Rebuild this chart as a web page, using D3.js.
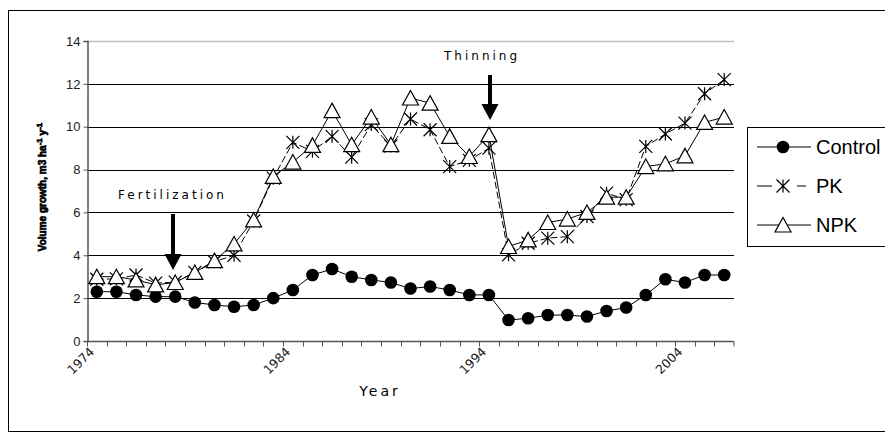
<!DOCTYPE html>
<html>
<head>
<meta charset="utf-8">
<script src="https://cdn.jsdelivr.net/npm/d3@7"></script>
<style>
  body { margin: 0; background: #fff; }
  svg { display: block; }
</style>
</head>
<body>
<div id="viz"></div>
<script>
// anos - years (one category per year)
var years = d3.range(1974, 2007);

// series values, m3 ha-1 y-1
var control = [2.3, 2.3, 2.15, 2.07, 2.07, 1.8, 1.68, 1.6, 1.68, 2.0, 2.38, 3.08, 3.36, 3.0, 2.85, 2.73, 2.45,
               2.54, 2.38, 2.15, 2.15, 0.98, 1.06, 1.21, 1.21, 1.14, 1.4, 1.56, 2.15, 2.88, 2.73, 3.08, 3.08];
var pk = [2.88, 2.9, 3.08, 2.7, 2.75, 3.2, 3.7, 4.0, 5.6, 7.6, 9.27, 8.85, 9.55, 8.58, 10.1, 9.1, 10.36,
          9.86, 8.14, 8.43, 9.0, 4.02, 4.56, 4.8, 4.87, 5.81, 6.9, 6.6, 9.08, 9.66, 10.17, 11.54, 12.2];
var npk = [3.0, 3.0, 2.85, 2.62, 2.73, 3.2, 3.75, 4.53, 5.65, 7.68, 8.35, 9.13, 10.75, 9.16, 10.45, 9.16, 11.34,
           11.1, 9.55, 8.61, 9.63, 4.41, 4.72, 5.53, 5.69, 6.0, 6.71, 6.71, 8.14, 8.27, 8.64, 10.2, 10.45];

var yTicks = [0, 2, 4, 6, 8, 10, 12, 14];
var xLabels = [1974, 1984, 1994, 2004];
var seriesNames = ['Control', 'PK', 'NPK'];

var width = 885, height = 437;
var margin = {left: 87, right: 151, top: 41, bottom: 96};

var svg = d3.select('#viz')
  .append('svg')
  .attr('width', width)
  .attr('height', height);

// moldura - outer frame
svg.append('rect')
  .attr('x', 8.5).attr('y', 10.5)
  .attr('width', 890).attr('height', 421)
  .attr('fill', 'none').attr('stroke', '#000');

var x = d3.scaleBand()
  .domain(years)
  .range([margin.left, width - margin.right])
  .padding(0);

var y = d3.scaleLinear()
  .domain([0, 14])
  .range([height - margin.bottom, margin.top]);

function cx(d, i) { return x(years[i]) + x.bandwidth() / 2; }

// linhas de grade - gridlines
svg.append('g')
  .selectAll('line')
  .data(yTicks.filter(function(t){ return t > 0; }))
  .join('line')
  .attr('x1', margin.left).attr('x2', width - margin.right)
  .attr('y1', function(d){ return Math.round(y(d)) + 0.5; })
  .attr('y2', function(d){ return Math.round(y(d)) + 0.5; })
  .attr('stroke', function(d){ return d === 14 ? '#c0c0c0' : '#000'; })
  .attr('stroke-width', function(d){ return d === 14 ? 1.5 : 1; });

// eixo y - y axis
var yAxis = svg.append('g')
  .attr('transform', 'translate(' + (margin.left + 0.5) + ',0)')
  .call(d3.axisLeft(y).tickValues(yTicks).tickSize(4).tickPadding(3));
yAxis.select('.domain').attr('stroke', '#555').attr('stroke-width', 1.5);
yAxis.selectAll('.tick line').attr('stroke', '#555');
yAxis.selectAll('text')
  .attr('font-family', 'Liberation Sans, Arial, sans-serif')
  .attr('font-size', 13)
  .attr('fill', '#222');

// eixo x - x axis, ticks at category boundaries
var xAxisG = svg.append('g');
var y0 = Math.round(y(0)) + 0.5;
xAxisG.append('line')
  .attr('x1', margin.left).attr('x2', width - margin.right)
  .attr('y1', y0).attr('y2', y0)
  .attr('stroke', '#555').attr('stroke-width', 1.5);
xAxisG.selectAll('line.tk')
  .data(years.concat([2007]))
  .join('line')
  .attr('class', 'tk')
  .attr('x1', function(d){ return d === 2007 ? width - margin.right : Math.round(x(d)) + 0.5; })
  .attr('x2', function(d){ return d === 2007 ? width - margin.right : Math.round(x(d)) + 0.5; })
  .attr('y1', y0).attr('y2', y0 + 5)
  .attr('stroke', '#555');
xAxisG.selectAll('text')
  .data(xLabels)
  .join('text')
  .attr('transform', function(d){ return 'translate(' + (x(d) + 5) + ',' + (y0 + 8) + ') rotate(-45)'; })
  .attr('text-anchor', 'end')
  .attr('dy', '0.35em')
  .attr('font-family', 'DejaVu Sans, Verdana, sans-serif')
  .attr('font-size', 12.5)
  .attr('fill', '#222')
  .text(function(d){ return d; });

svg.append('text')
  .attr('x', 380).attr('y', 396)
  .attr('text-anchor', 'middle')
  .attr('font-family', 'DejaVu Sans, Verdana, sans-serif')
  .attr('font-size', 14)
  .attr('letter-spacing', 3)
  .text('Year');

// titulo do eixo y - y axis title
var yt = svg.append('text')
  .attr('transform', 'translate(46,187) rotate(-90)')
  .attr('text-anchor', 'middle')
  .attr('font-family', 'Liberation Sans, Arial, sans-serif')
  .attr('font-size', 10)
  .attr('font-weight', 'bold')
  .attr('stroke', '#000').attr('stroke-width', 0.7);
yt.append('tspan').text('Volume growth, m3 ha');
yt.append('tspan').attr('dy', -4).attr('font-size', 8).text('-1');
yt.append('tspan').attr('dy', 4).text(' y');
yt.append('tspan').attr('dy', -4).attr('font-size', 8).text('-1');

// series
var line = d3.line().x(cx).y(function(d){ return y(d); });

function drawCircles(g, data) {
  g.selectAll('circle').data(data).join('circle')
    .attr('cx', cx).attr('cy', function(d){ return y(d); })
    .attr('r', 6.3).attr('fill', '#000');
}
function starPath(s) {
  return 'M' + (-s) + ',' + (-s) + 'L' + s + ',' + s +
         'M' + (-s) + ',' + s + 'L' + s + ',' + (-s) +
         'M0,' + (-s) + 'L0,' + s;
}
var triPath = 'M0,-7.5L8,7L-8,7Z';

var gC = svg.append('g');
gC.append('path').attr('d', line(control)).attr('fill', 'none').attr('stroke', '#000').attr('stroke-width', 1);
drawCircles(gC, control);

var gP = svg.append('g');
gP.append('path').attr('d', line(pk)).attr('fill', 'none').attr('stroke', '#000')
  .attr('stroke-width', 1).attr('stroke-dasharray', '7,3');
gP.selectAll('path.m').data(pk).join('path').attr('class', 'm')
  .attr('transform', function(d, i){ return 'translate(' + cx(d, i) + ',' + y(d) + ')'; })
  .attr('d', starPath(6.5)).attr('stroke', '#000').attr('stroke-width', 1.2).attr('fill', 'none');

var gN = svg.append('g');
gN.append('path').attr('d', line(npk)).attr('fill', 'none').attr('stroke', '#000').attr('stroke-width', 1);
gN.selectAll('path.m').data(npk).join('path').attr('class', 'm')
  .attr('transform', function(d, i){ return 'translate(' + cx(d, i) + ',' + y(d) + ')'; })
  .attr('d', triPath).attr('stroke', '#000').attr('stroke-width', 1.2).attr('fill', '#fff');

// anotacoes - annotations
function arrow(xp, yTop, yTip) {
  svg.append('line')
    .attr('x1', xp).attr('x2', xp)
    .attr('y1', yTop).attr('y2', yTip - 12)
    .attr('stroke', '#000').attr('stroke-width', 4);
  svg.append('path')
    .attr('d', 'M' + (xp - 8.5) + ',' + (yTip - 16) + 'L' + (xp + 8.5) + ',' + (yTip - 16) + 'L' + xp + ',' + yTip + 'Z')
    .attr('fill', '#000');
}
svg.append('text')
  .attr('x', 118).attr('y', 199)
  .attr('font-family', 'DejaVu Sans, Verdana, sans-serif')
  .attr('font-size', 12).attr('letter-spacing', 3)
  .text('Fertilization');
arrow(173, 214, 270);

svg.append('text')
  .attr('x', 444).attr('y', 60)
  .attr('font-family', 'DejaVu Sans, Verdana, sans-serif')
  .attr('font-size', 12).attr('letter-spacing', 3)
  .text('Thinning');
arrow(490, 75, 120);

// legenda - legend
var lg = svg.append('g');
lg.append('rect')
  .attr('x', 747.5).attr('y', 127.5)
  .attr('width', 160).attr('height', 119)
  .attr('fill', '#fff').attr('stroke', '#000');
var rowsY = [147, 186, 225];
seriesNames.forEach(function(name, k) {
  var ry = rowsY[k];
  var row = lg.append('g').attr('transform', 'translate(0,' + ry + ')');
  if (k === 1) {
    row.append('line').attr('x1', 757).attr('x2', 772).attr('y1', 0).attr('y2', 0).attr('stroke', '#000');
    row.append('line').attr('x1', 797).attr('x2', 806).attr('y1', 0).attr('y2', 0).attr('stroke', '#000');
  } else {
    row.append('line').attr('x1', 757).attr('x2', 811).attr('y1', 0).attr('y2', 0).attr('stroke', '#000');
  }
  if (k === 0) row.append('circle').attr('cx', 783).attr('cy', 0).attr('r', 6.3).attr('fill', '#000');
  if (k === 1) row.append('path').attr('transform', 'translate(783,0)').attr('d', starPath(6.5))
    .attr('stroke', '#000').attr('stroke-width', 1.2).attr('fill', 'none');
  if (k === 2) row.append('path').attr('transform', 'translate(783,0)').attr('d', triPath)
    .attr('stroke', '#000').attr('stroke-width', 1.2).attr('fill', '#fff');
  row.append('text')
    .attr('x', 816).attr('y', 0).attr('dy', '0.36em')
    .attr('font-family', 'Liberation Sans, Arial, sans-serif')
    .attr('font-size', 20)
    .text(name);
});
</script>
</body>
</html>
